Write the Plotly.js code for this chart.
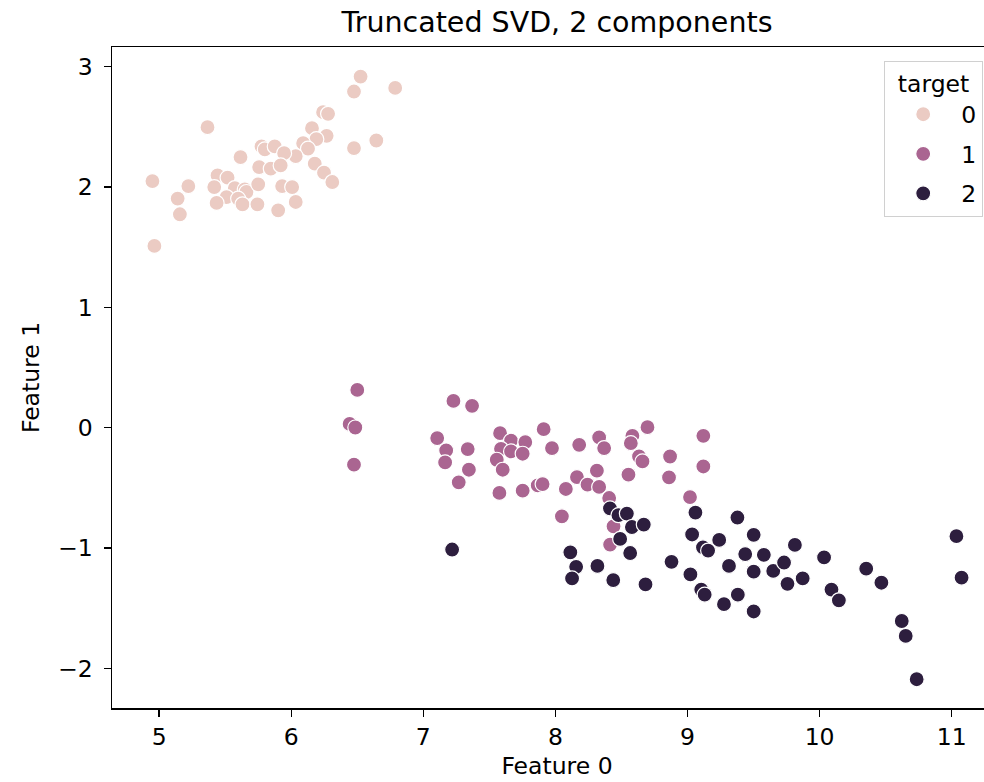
<!DOCTYPE html>
<html>
<head>
<meta charset="utf-8">
<script src="https://cdn.plot.ly/plotly-3.0.1.min.js"></script>
<style>
  html, body { margin: 0; padding: 0; overflow: hidden; background: #fff; }
  #chart { width: 1010px; height: 782px; }
</style>
</head>
<body>
<div id="chart"></div>
<script>
// target 0
const x0 = [6.525, 6.475, 6.787, 6.241, 6.279, 5.366, 6.157, 6.268, 6.190, 6.090,
            6.475, 6.644, 6.127, 6.034, 5.775, 5.800, 5.875, 5.946, 5.616, 5.757,
            5.845, 5.920, 6.178, 6.248, 6.311, 5.442, 5.518, 4.949, 5.221, 5.417,
            5.573, 5.648, 5.661, 5.750, 5.931, 6.007, 5.140, 5.510, 5.598, 5.435,
            5.631, 5.744, 6.034, 5.901, 5.157, 4.964];
const y0 = [2.917, 2.793, 2.823, 2.621, 2.608, 2.497, 2.488, 2.425, 2.397, 2.364,
            2.323, 2.386, 2.318, 2.256, 2.337, 2.312, 2.337, 2.281, 2.248, 2.165,
            2.152, 2.179, 2.193, 2.119, 2.041, 2.096, 2.077, 2.049, 2.007, 1.999,
            1.991, 1.980, 1.958, 2.022, 2.007, 1.999, 1.903, 1.916, 1.903, 1.867,
            1.856, 1.856, 1.875, 1.806, 1.773, 1.510];
// target 1
const x1 = [6.500, 7.228, 7.369, 6.442, 6.485, 7.105, 7.173, 7.336, 7.165, 7.345,
            7.268, 6.475, 7.581, 7.664, 7.772, 7.588, 7.664, 7.752, 7.556, 7.601,
            7.576, 7.911, 7.974, 8.180, 7.752, 7.866, 7.903, 8.079, 8.163, 8.243,
            8.049, 8.697, 9.120, 8.331, 8.583, 8.571, 8.369, 8.633, 8.659, 8.868,
            9.120, 8.314, 8.331, 8.553, 8.860, 8.407, 9.019, 8.440, 8.414];
const y1 = [0.313, 0.222, 0.181, 0.031, 0.001, -0.087, -0.190, -0.178, -0.289, -0.350,
            -0.455, -0.308, -0.046, -0.109, -0.120, -0.176, -0.198, -0.217, -0.267, -0.350,
            -0.543, -0.013, -0.170, -0.143, -0.524, -0.480, -0.469, -0.510, -0.411, -0.474,
            -0.737, 0.004, -0.068, -0.082, -0.068, -0.129, -0.170, -0.240, -0.281, -0.240,
            -0.323, -0.358, -0.493, -0.391, -0.414, -0.585, -0.577, -0.820, -0.972];
// target 2
const x2 = [7.218, 8.113, 8.157, 8.126, 8.318, 8.438, 8.413, 8.477, 8.541, 8.579,
            8.669, 8.490, 8.566, 8.682, 8.879, 9.022, 9.060, 9.035, 9.117, 9.156,
            9.240, 9.378, 9.501, 9.437, 9.578, 9.314, 9.501, 9.649, 9.731, 9.813,
            9.757, 9.872, 10.034, 10.090, 10.146, 9.104, 9.130, 9.381, 9.276, 9.501,
            10.353, 10.468, 10.622, 10.652, 10.735, 11.036, 11.075];
const y2 = [-1.013, -1.036, -1.157, -1.253, -1.149, -1.267, -0.671, -0.728, -0.714, -0.826,
            -0.806, -0.925, -1.042, -1.303, -1.115, -1.220, -0.706, -0.888, -0.995, -1.022,
            -0.933, -0.747, -0.891, -1.051, -1.057, -1.149, -1.197, -1.191, -1.121, -0.975,
            -1.298, -1.253, -1.079, -1.346, -1.435, -1.346, -1.388, -1.388, -1.467, -1.528,
            -1.172, -1.289, -1.607, -1.731, -2.091, -0.902, -1.247];

const labels = ["0", "1", "2"];
const colors = ["#ebcbc3", "#aa6591", "#2d1e3e"];
const xs = [x0, x1, x2];
const ys = [y0, y1, y2];

const FONT = "DejaVu Sans, sans-serif";
const TXT = "#000000";

const traces = labels.map((lab, i) => ({
  type: "scatter",
  mode: "markers",
  name: lab,
  legendgroup: "g" + i,
  x: xs[i],
  y: ys[i],
  marker: { size: 15, color: colors[i], line: { color: "#ffffff", width: 1.2 } },
  hoverinfo: "skip"
}));

const axisCommon = {
  showgrid: false,
  zeroline: false,
  showline: true,
  mirror: true,
  linecolor: "#000",
  linewidth: 1.5,
  ticks: "outside",
  ticklen: 7,
  tickwidth: 1.4,
  tickcolor: "#000",
  dtick: 1,
  tickfont: { family: FONT, size: 23.5, color: TXT }
};

const layout = {
  width: 1010,
  height: 782,
  paper_bgcolor: "#ffffff",
  plot_bgcolor: "#ffffff",
  margin: { l: 112, r: 8, t: 47, b: 74 },
  font: { family: FONT, color: TXT },
  title: {
    text: "Truncated SVD, 2 components",
    font: { family: FONT, size: 28.5, color: TXT },
    x: 0.5, xref: "paper", xanchor: "center",
    y: 1 - 22 / 782, yref: "container", yanchor: "middle"
  },
  xaxis: Object.assign({}, axisCommon, {
    range: [4.643, 11.381],
    title: { text: "Feature 0", font: { family: FONT, size: 23.5, color: TXT }, standoff: 8 },
    ticklabelstandoff: 0
  }),
  yaxis: Object.assign({}, axisCommon, {
    range: [-2.33, 3.163],
    title: { text: "Feature 1", font: { family: FONT, size: 23.5, color: TXT }, standoff: 12 },
    ticklabelstandoff: 6
  }),
  showlegend: true,
  legend: {
    x: (983 - 112) / (1002 - 112),
    xanchor: "right",
    y: 1 - (60.7 - 47) / (708 - 47),
    yanchor: "top",
    bgcolor: "rgba(255,255,255,0.8)",
    bordercolor: "#d0d0d0",
    borderwidth: 1.2,
    font: { family: FONT, size: 23.5, color: TXT },
    title: { text: "target", side: "top center", font: { family: FONT, size: 23.5, color: TXT } },
    tracegroupgap: 6,
    itemsizing: "trace",
    itemwidth: 66
  }
};

Plotly.newPlot("chart", traces, layout, { staticPlot: true, displayModeBar: false });
</script>
</body>
</html>
